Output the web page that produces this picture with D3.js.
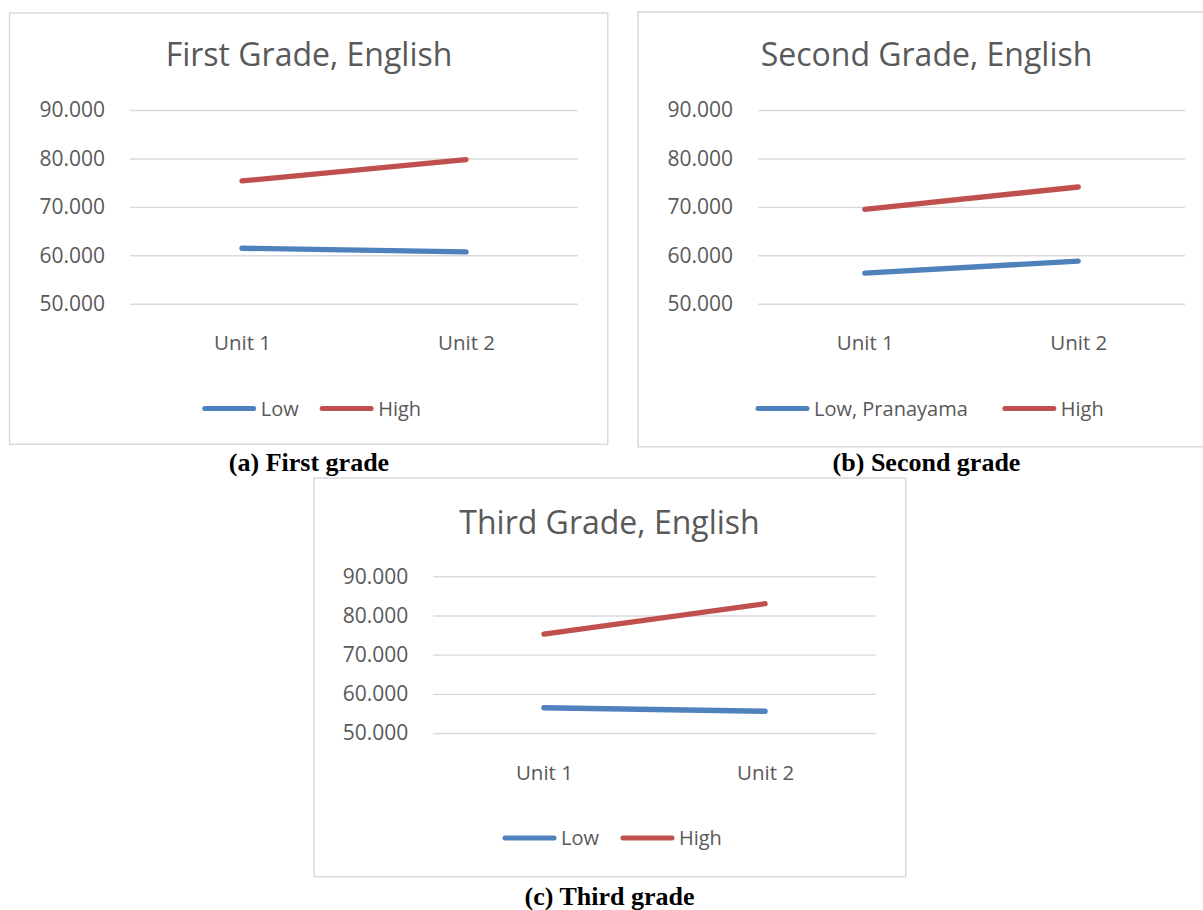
<!DOCTYPE html>
<html>
<head>
<meta charset="utf-8">
<script src="https://cdn.jsdelivr.net/npm/d3@7"></script>
<style>
  body { margin: 0; background: #fff; }
  svg { display: block; }
</style>
</head>
<body>
<div id="container"></div>
<script>
/* DATA */
const units = ["Unit 1", "Unit 2"];
const yTicks = [50, 60, 70, 80, 90];
const titles = ["First Grade, English", "Second Grade, English", "Third Grade, English"];
const captions = ["(a) First grade", "(b) Second grade", "(c) Third grade"];
const lowLabels = ["Low", "Low, Pranayama", "Low"];
const highLabel = "High";

const firstLow = [61.45, 60.7];
const firstHigh = [75.35, 79.75];
const secondLow = [56.3, 58.8];
const secondHigh = [69.5, 74.1];
const thirdLow = [56.45, 55.55];
const thirdHigh = [75.25, 83.0];

/* CONSTANTS */
const width = 1203;
const height = 910;
const blue = "#4f81bd";
const red = "#c0504d";
const textColor = "#595959";
const gridColor = "#d9d9d9";
const font = "'Open Sans', sans-serif";

// layout of each panel (boxes, plot areas)
const panels = [
  { title: titles[0], caption: captions[0], low: firstLow, high: firstHigh, lowLabel: lowLabels[0],
    box: [9.5, 13, 598.2, 431.3], plot: [130, 578, 110, 303.7],
    cx: 309, titleY: 66, legendY: 408.5, legendX: 202.7, legendGap: 21.5, captionY: 471 },
  { title: titles[1], caption: captions[1], low: secondLow, high: secondHigh, lowLabel: lowLabels[1],
    box: [638, 12, 580, 434.7], plot: [758, 1185, 110, 303.7],
    cx: 926.5, titleY: 66, legendY: 408.5, legendX: 756, legendGap: 35, captionY: 471 },
  { title: titles[2], caption: captions[2], low: thirdLow, high: thirdHigh, lowLabel: lowLabels[2],
    box: [314, 478, 591.7, 398.7], plot: [433.3, 875.7, 576.3, 733],
    cx: 609.5, titleY: 533.5, legendY: 838, legendX: 503, legendGap: 22, captionY: 905 }
];

const svg = d3.select("#container")
  .append("svg")
  .attr("width", width)
  .attr("height", height);

svg.append("rect")
  .attr("width", width)
  .attr("height", height)
  .attr("fill", "#fff");

panels.forEach(p => {
  const [bx, by, bw, bh] = p.box;
  const [x0, x1, yTop, yBottom] = p.plot;

  // chart box
  svg.append("rect")
    .attr("x", bx).attr("y", by)
    .attr("width", bw).attr("height", bh)
    .attr("fill", "#fff")
    .attr("stroke", gridColor)
    .attr("stroke-width", 1.5);

  /* SCALES */
  const xScale = d3.scalePoint()
    .domain(units)
    .range([x0, x1])
    .padding(0.5);

  const yScale = d3.scaleLinear()
    .domain([50, 90])
    .range([yBottom, yTop]);

  // y axis + gridlines
  const yAxis = d3.axisLeft(yScale)
    .tickValues(yTicks)
    .tickFormat(d3.format(".3f"))
    .tickSize(-(x1 - x0))
    .tickPadding(25);

  const gy = svg.append("g")
    .attr("transform", `translate(${x0},0)`)
    .call(yAxis);
  gy.select(".domain").remove();
  gy.selectAll(".tick line")
    .attr("stroke", gridColor)
    .attr("stroke-width", 1.4);
  gy.selectAll(".tick text")
    .attr("fill", textColor)
    .style("font-family", font)
    .style("font-size", "21px");

  // x axis labels
  const xAxis = d3.axisBottom(xScale)
    .tickSize(0)
    .tickPadding(32);

  const gx = svg.append("g")
    .attr("transform", `translate(0,${yBottom})`)
    .call(xAxis);
  gx.select(".domain").remove();
  gx.selectAll(".tick text")
    .attr("fill", textColor)
    .style("font-family", font)
    .style("font-size", "20.5px");

  // series lines
  const line = d3.line()
    .x((d, i) => xScale(units[i]))
    .y(d => yScale(d));

  [[p.low, blue], [p.high, red]].forEach(([vals, color]) => {
    svg.append("path")
      .datum(vals)
      .attr("d", line)
      .attr("fill", "none")
      .attr("stroke", color)
      .attr("stroke-width", 5.3)
      .attr("stroke-linecap", "round");
  });

  // title
  svg.append("text")
    .attr("x", p.cx)
    .attr("y", p.titleY)
    .attr("text-anchor", "middle")
    .attr("fill", textColor)
    .style("font-family", font)
    .style("font-size", "32px")
    .text(p.title);

  // legend
  const legend = svg.append("g")
    .attr("transform", `translate(${p.legendX},${p.legendY})`);
  const items = [[p.lowLabel, blue], [highLabel, red]];
  let cursor = 0;
  items.forEach(([label, color]) => {
    const item = legend.append("g").attr("transform", `translate(${cursor},0)`);
    item.append("line")
      .attr("x1", 2).attr("x2", 51)
      .attr("y1", 0).attr("y2", 0)
      .attr("stroke", color)
      .attr("stroke-width", 5)
      .attr("stroke-linecap", "round");
    const t = item.append("text")
      .attr("x", 58)
      .attr("y", 7)
      .attr("fill", textColor)
      .style("font-family", font)
      .style("font-size", "20px")
      .text(label);
    cursor += 58 + t.node().getComputedTextLength() + p.legendGap;
  });

  // caption under the chart
  svg.append("text")
    .attr("x", p.cx)
    .attr("y", p.captionY)
    .attr("text-anchor", "middle")
    .attr("fill", "#000")
    .style("font-family", "'Liberation Serif', 'Times New Roman', serif")
    .style("font-weight", "bold")
    .style("font-size", "26px")
    .text(p.caption);
});
</script>
</body>
</html>
